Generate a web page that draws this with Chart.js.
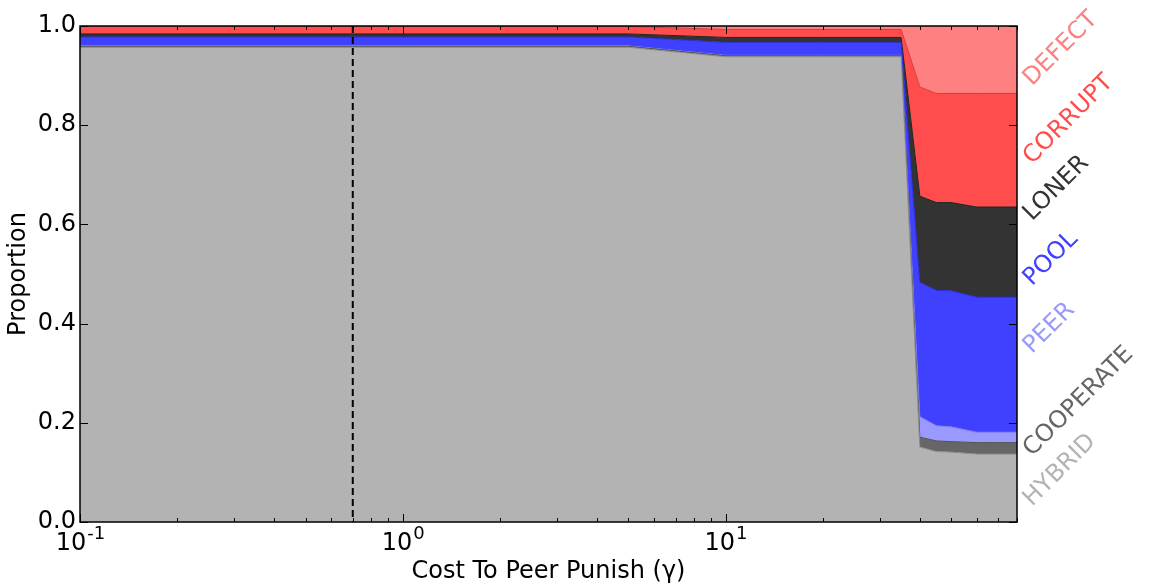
<!DOCTYPE html>
<html>
<head>
<meta charset="utf-8">
<script src="https://cdn.jsdelivr.net/npm/chart.js@4"></script>
<style>
  body { margin: 0; background: #fff; }
  #wrap { width: 1152px; height: 588px; }
</style>
</head>
<body>
<div id="wrap"><canvas id="strategyChart"></canvas></div>
<script>
// cost to peer punish (gamma) values
var gammaValues = [0.1, 0.2, 0.5, 0.7, 1, 2, 5, 10, 20, 35, 40, 45, 50, 60, 70, 80];

// proportion of each strategy, bottom of the stack first
var hybrid    = [0.957, 0.957, 0.957, 0.957, 0.957, 0.957, 0.957, 0.938, 0.938, 0.938, 0.151, 0.142, 0.141, 0.137, 0.137, 0.137];
var cooperate = [0.002, 0.002, 0.002, 0.002, 0.002, 0.002, 0.002, 0.002, 0.002, 0.002, 0.020, 0.0215, 0.021, 0.023, 0.023, 0.023];
var peer      = [0.001, 0.001, 0.001, 0.001, 0.001, 0.001, 0.001, 0.001, 0.001, 0.001, 0.0415, 0.0305, 0.030, 0.021, 0.021, 0.021];
var pool      = [0.018, 0.018, 0.018, 0.018, 0.018, 0.018, 0.018, 0.026, 0.026, 0.026, 0.2705, 0.273, 0.274, 0.2725, 0.2725, 0.2725];
var loner     = [0.006, 0.006, 0.006, 0.006, 0.006, 0.006, 0.006, 0.010, 0.010, 0.010, 0.174, 0.177, 0.178, 0.1815, 0.1815, 0.1815];
var corrupt   = [0.015, 0.015, 0.015, 0.015, 0.015, 0.015, 0.015, 0.016, 0.016, 0.016, 0.220, 0.220, 0.220, 0.229, 0.229, 0.229];
var defect    = [0.001, 0.001, 0.001, 0.001, 0.001, 0.001, 0.001, 0.007, 0.007, 0.007, 0.123, 0.136, 0.136, 0.136, 0.136, 0.136];

var seriesNames = ['HYBRID', 'COOPERATE', 'PEER', 'POOL', 'LONER', 'CORRUPT', 'DEFECT'];
var seriesValues = [hybrid, cooperate, peer, pool, loner, corrupt, defect];

// tick labels (base 10, exponent drawn raised)
var xMajorTicks = [0.1, 1, 10];
var xTickExponents = ['-1', '0', '1'];
var yTickValues = [0, 0.2, 0.4, 0.6, 0.8, 1.0];

// dashed marker
var markerGamma = 0.7;

// styles
var fillColors   = ['#b3b3b3', '#666666', '#9999ff', '#4040ff', '#333333', '#ff4d4d', '#ff8080'];
var edgeColors   = ['#8a8a8a', '#505050', '#7a7aee', '#2a2ad0', '#222222', '#d83a3a', '#f07070'];
// where the rotated names sit on the right, in proportion units
var namePositions = [0.03, 0.131, 0.338, 0.475, 0.606, 0.72, 0.878];

var FONT = '"DejaVu Sans", "Liberation Sans", sans-serif';

var datasets = seriesNames.map(function (name, i) {
    return {
        label: name,
        data: gammaValues.map(function (g, j) { return { x: g, y: seriesValues[i][j] }; }),
        backgroundColor: fillColors[i],
        borderColor: edgeColors[i],
        borderWidth: 1,
        pointRadius: 0,
        tension: 0,
        fill: i === 0 ? 'origin' : '-1'
    };
});

var overlay = {
    id: 'overlay',
    afterDatasetsDraw: function (chart) {
        var ctx = chart.ctx;
        var a = chart.chartArea;
        var x = chart.scales.x;
        var y = chart.scales.y;
        ctx.save();

        // dashed vertical line
        var xd = x.getPixelForValue(markerGamma);
        ctx.strokeStyle = '#000';
        ctx.lineWidth = 2;
        ctx.setLineDash([7, 4]);
        ctx.beginPath();
        ctx.moveTo(xd, a.top);
        ctx.lineTo(xd, a.bottom);
        ctx.stroke();
        ctx.setLineDash([]);

        // inward ticks, matplotlib style
        ctx.lineWidth = 1;
        x.ticks.forEach(function (t) {
            var px = Math.round(x.getPixelForValue(t.value)) + 0.5;
            var len = xMajorTicks.indexOf(t.value) >= 0 ? 8 : 4;
            ctx.beginPath();
            ctx.moveTo(px, a.bottom); ctx.lineTo(px, a.bottom - len);
            ctx.moveTo(px, a.top); ctx.lineTo(px, a.top + len);
            ctx.stroke();
        });
        yTickValues.forEach(function (v) {
            var py = Math.round(y.getPixelForValue(v)) + 0.5;
            ctx.beginPath();
            ctx.moveTo(a.left, py); ctx.lineTo(a.left + 8, py);
            ctx.moveTo(a.right, py); ctx.lineTo(a.right - 8, py);
            ctx.stroke();
        });

        // frame
        ctx.lineWidth = 1.5;
        ctx.strokeRect(a.left, a.top, a.right - a.left, a.bottom - a.top);

        // x tick labels as 10 with a raised exponent
        ctx.fillStyle = '#000';
        ctx.textBaseline = 'alphabetic';
        ctx.textAlign = 'left';
        xMajorTicks.forEach(function (v, i) {
            var px = x.getPixelForValue(v);
            ctx.font = '24px ' + FONT;
            var wBase = ctx.measureText('10').width;
            ctx.font = '18px ' + FONT;
            var wExp = ctx.measureText(xTickExponents[i]).width;
            var left = px - (wBase + wExp) / 2;
            ctx.font = '24px ' + FONT;
            ctx.fillText('10', left, a.bottom + 28);
            ctx.font = '18px ' + FONT;
            ctx.fillText(xTickExponents[i], left + wBase + 1, a.bottom + 17);
        });

        // rotated strategy names
        ctx.font = '24px ' + FONT;
        seriesNames.forEach(function (name, i) {
            ctx.save();
            ctx.translate(a.right + 15, y.getPixelForValue(namePositions[i]));
            ctx.rotate(-Math.PI / 4);
            ctx.fillStyle = fillColors[i];
            ctx.fillText(name, 0, 0);
            ctx.restore();
        });
        ctx.restore();
    }
};

var chart = new Chart(document.getElementById('strategyChart'), {
    type: 'line',
    data: { datasets: datasets },
    options: {
        responsive: true,
        maintainAspectRatio: false,
        animation: false,
        layout: { padding: { left: 0, right: 135, top: 26, bottom: 0 } },
        plugins: {
            legend: { display: false },
            tooltip: { enabled: false }
        },
        scales: {
            x: {
                type: 'logarithmic',
                min: 0.1,
                max: 80,
                grid: { display: false, drawTicks: false },
                border: { display: false },
                afterBuildTicks: function (scale) {
                    var ticks = [];
                    xMajorTicks.forEach(function (d) {
                        for (var m = 1; m < 10; m++) {
                            var v = d * m;
                            if (v <= 80) ticks.push({ value: v });
                        }
                    });
                    scale.ticks = ticks;
                },
                afterFit: function (scale) { scale.height = 66; },
                ticks: {
                    autoSkip: false,
                    maxRotation: 0,
                    padding: 5,
                    font: { family: FONT, size: 24 },
                    callback: function () { return ''; }
                },
                title: {
                    display: true,
                    text: 'Cost To Peer Punish (\u03B3)',
                    color: '#000',
                    font: { family: FONT, size: 24 },
                    padding: { top: 0, bottom: 2 }
                }
            },
            y: {
                type: 'linear',
                stacked: true,
                min: 0,
                max: 1,
                grid: { display: false, drawTicks: false },
                border: { display: false },
                afterFit: function (scale) { scale.width = 80; },
                ticks: {
                    stepSize: 0.2,
                    padding: 4,
                    color: '#000',
                    font: { family: FONT, size: 24 },
                    callback: function (v) { return v.toFixed(1); }
                },
                title: {
                    display: true,
                    text: 'Proportion',
                    color: '#000',
                    font: { family: FONT, size: 24 },
                    padding: { top: 4, bottom: 0 }
                }
            }
        }
    },
    plugins: [overlay]
});
</script>
</body>
</html>
